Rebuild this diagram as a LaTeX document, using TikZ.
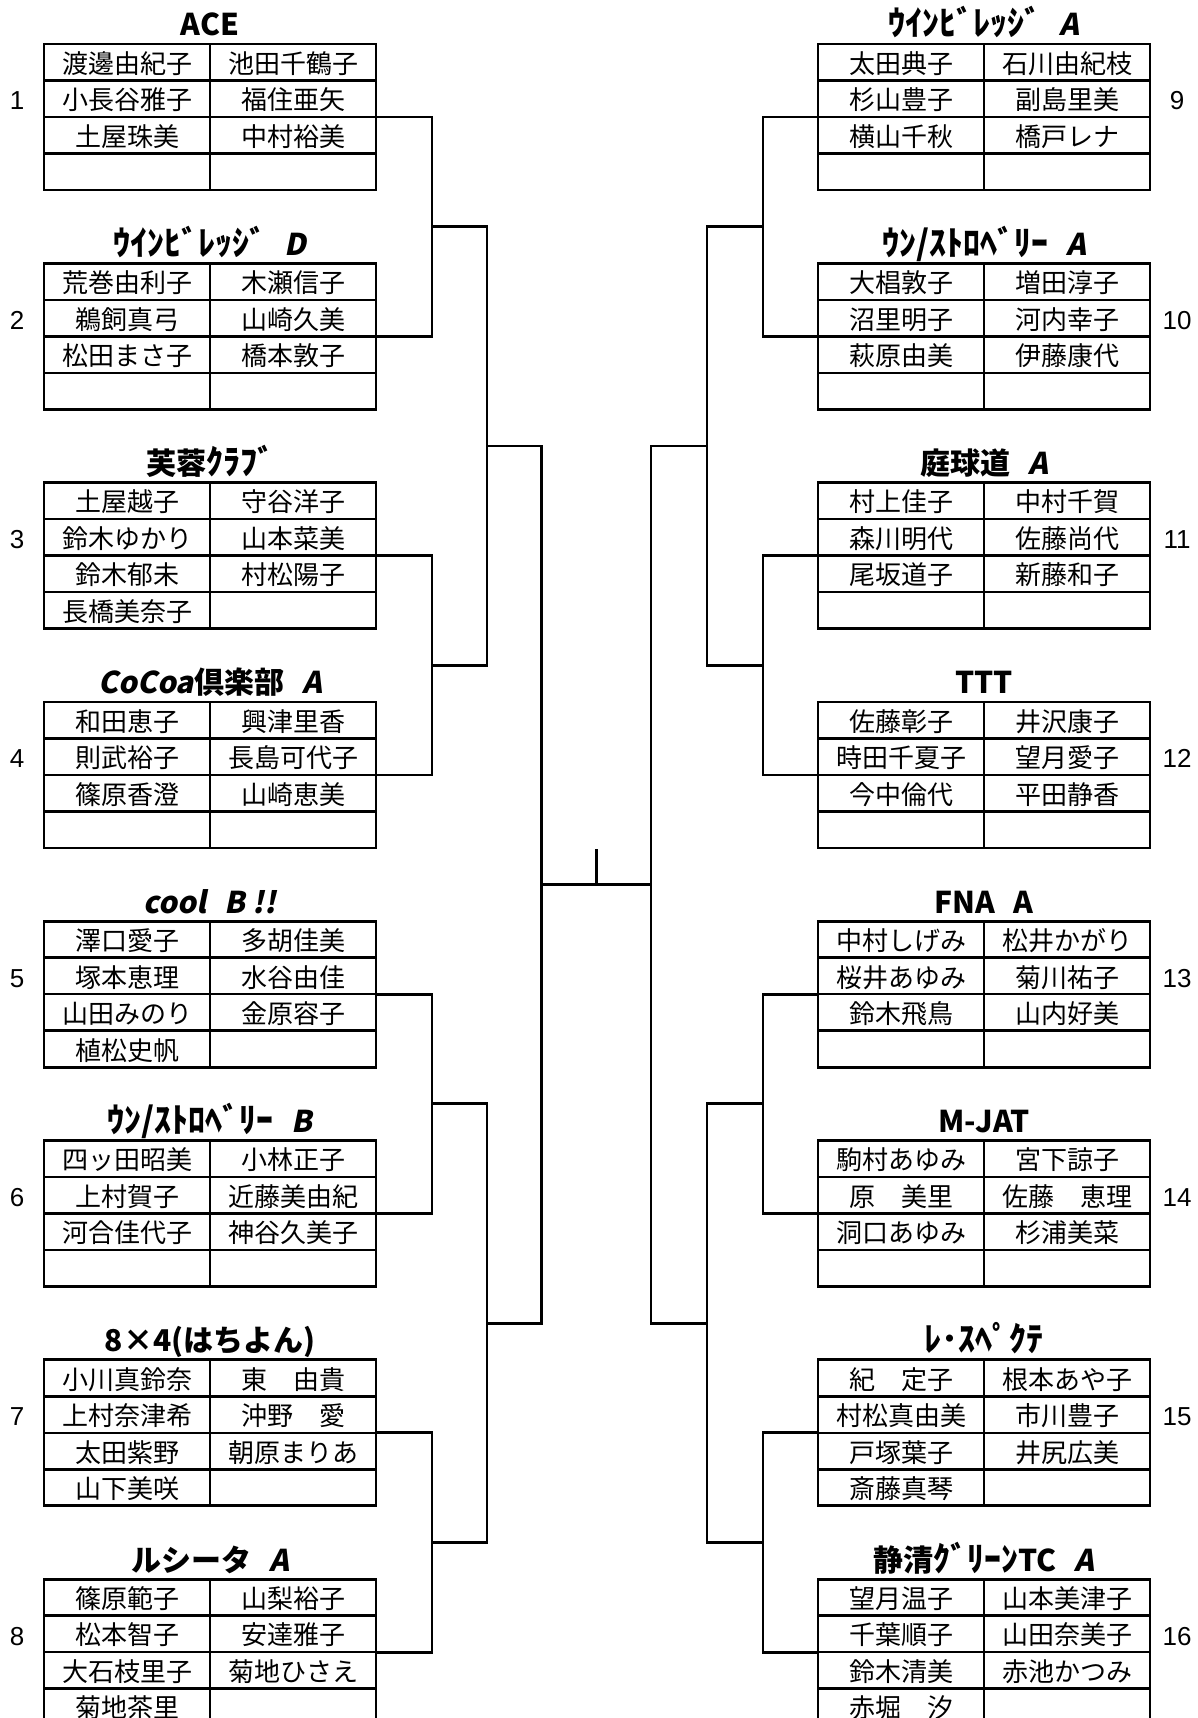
\documentclass[tikz,border=0pt]{standalone}
\usepackage{fontspec}
\usetikzlibrary{calc}
\setmainfont{Liberation Sans}
\newfontfamily\jp{Noto Sans CJK JP}
\newfontfamily\jpsl{Noto Sans CJK JP}[FakeSlant=0.2]
\newcommand\kn{\fontsize{34}{36}\selectfont}
\newcommand\gap{\hspace{18pt}}
\tikzset{
  tbl/.style={draw, line width=2.8pt, minimum width=332pt, minimum height=146pt, inner sep=0pt, outer sep=0pt},
  gridline/.style={line width=2.5pt},
  nm/.style={anchor=base, inner sep=0pt, font=\jp\fontsize{26}{30}\selectfont},
  ttl/.style={anchor=base, inner sep=0pt, font=\jp\bfseries\fontsize{30}{34}\selectfont},
  num/.style={anchor=base, inner sep=0pt, font=\fontsize{26}{30}\selectfont},
  br/.style={line width=2.8pt}
}
\newcommand\teambox[4]{%
  \node[tbl, anchor=north west] (#1) at (#2,#3) {};
  \foreach \d in {36.5,73,109.5}
    \draw[gridline] ($(#1.north west)+(0,\d)$) -- ($(#1.north east)+(0,\d)$);
  \draw[gridline] (#1.north) -- (#1.south);
  \node[ttl] (#1t) at ($(#1.north)+(0,-8)$) {#4};
  \coordinate (#1l) at ($(#1.north west)+(0,73)$);
  \coordinate (#1r) at ($(#1.north east)+(0,73)$);
}
\newcommand\teamrows[9]{%
  \node[nm] (#1a) at ($(#1.north west)+(83,29.3)$) {#2};
  \node[nm] (#1b) at ($(#1.north west)+(249,29.3)$) {#3};
  \node[nm] (#1c) at ($(#1.north west)+(83,65.8)$) {#4};
  \node[nm] (#1d) at ($(#1.north west)+(249,65.8)$) {#5};
  \node[nm] (#1e) at ($(#1.north west)+(83,102.3)$) {#6};
  \node[nm] (#1f) at ($(#1.north west)+(249,102.3)$) {#7};
  \node[nm] (#1g) at ($(#1.north west)+(83,138.8)$) {#8};
  \node[nm] (#1h) at ($(#1.north west)+(249,138.8)$) {#9};
}
\begin{document}
\begin{tikzpicture}[x=1pt,y=-1pt]
\useasboundingbox (0,0) rectangle (1197,1718);
\clip (0,0) rectangle (1197,1718);
\fill[white] (0,0) rectangle (1197,1718);

% ---------- left side ----------
\teambox{t1}{44}{44}{ACE}
\teamrows{t1}{渡邊由紀子}{池田千鶴子}{小長谷雅子}{福住亜矢}{土屋珠美}{中村裕美}{}{}
\teambox{t2}{44}{263.3}{{\kn ｳｲﾝﾋﾞﾚｯｼﾞ}\gap{\jpsl D}}
\teamrows{t2}{荒巻由利子}{木瀬信子}{鵜飼真弓}{山崎久美}{松田まさ子}{橋本敦子}{}{}
\teambox{t3}{44}{482.6}{芙蓉{\kn ｸﾗﾌﾞ}}
\teamrows{t3}{土屋越子}{守谷洋子}{鈴木ゆかり}{山本菜美}{鈴木郁未}{村松陽子}{長橋美奈子}{}
\teambox{t4}{44}{701.9}{{\jpsl CoCoa}倶楽部\gap{\jpsl A}}
\teamrows{t4}{和田恵子}{興津里香}{則武裕子}{長島可代子}{篠原香澄}{山崎恵美}{}{}
\teambox{t5}{44}{921.2}{{\jpsl cool\gap B !!}}
\teamrows{t5}{澤口愛子}{多胡佳美}{塚本恵理}{水谷由佳}{山田みのり}{金原容子}{植松史帆}{}
\teambox{t6}{44}{1140.5}{{\kn ｳﾝ/ｽﾄﾛﾍﾞﾘｰ}\gap{\jpsl B}}
\teamrows{t6}{四ッ田昭美}{小林正子}{上村賀子}{近藤美由紀}{河合佳代子}{神谷久美子}{}{}
\teambox{t7}{44}{1359.8}{8×4(はちよん)}
\teamrows{t7}{小川真鈴奈}{東　由貴}{上村奈津希}{沖野　愛}{太田紫野}{朝原まりあ}{山下美咲}{}
\teambox{t8}{44}{1579.1}{ルシータ\gap{\jpsl A}}
\teamrows{t8}{篠原範子}{山梨裕子}{松本智子}{安達雅子}{大石枝里子}{菊地ひさえ}{菊地茶里}{}

% ---------- right side ----------
\teambox{t9}{818}{44}{{\kn ｳｲﾝﾋﾞﾚｯｼﾞ}\gap{\jpsl A}}
\teamrows{t9}{太田典子}{石川由紀枝}{杉山豊子}{副島里美}{横山千秋}{橋戸レナ}{}{}
\teambox{t10}{818}{263.3}{{\kn ｳﾝ/ｽﾄﾛﾍﾞﾘｰ}\gap{\jpsl A}}
\teamrows{t10}{大椙敦子}{増田淳子}{沼里明子}{河内幸子}{萩原由美}{伊藤康代}{}{}
\teambox{t11}{818}{482.6}{庭球道\gap{\jpsl A}}
\teamrows{t11}{村上佳子}{中村千賀}{森川明代}{佐藤尚代}{尾坂道子}{新藤和子}{}{}
\teambox{t12}{818}{701.9}{TTT}
\teamrows{t12}{佐藤彰子}{井沢康子}{時田千夏子}{望月愛子}{今中倫代}{平田静香}{}{}
\teambox{t13}{818}{921.2}{FNA\gap A}
\teamrows{t13}{中村しげみ}{松井かがり}{桜井あゆみ}{菊川祐子}{鈴木飛鳥}{山内好美}{}{}
\teambox{t14}{818}{1140.5}{M-JAT}
\teamrows{t14}{駒村あゆみ}{宮下諒子}{原　美里}{佐藤　恵理}{洞口あゆみ}{杉浦美菜}{}{}
\teambox{t15}{818}{1359.8}{{\kn ﾚ･ｽﾍﾟｸﾃ}}
\teamrows{t15}{紀　定子}{根本あや子}{村松真由美}{市川豊子}{戸塚葉子}{井尻広美}{斎藤真琴}{}
\teambox{t16}{818}{1579.1}{静清{\kn ｸﾞﾘｰﾝ}TC\gap{\jpsl A}}
\teamrows{t16}{望月温子}{山本美津子}{千葉順子}{山田奈美子}{鈴木清美}{赤池かつみ}{赤堀　汐}{}

% ---------- seed numbers ----------
\node[num] (n1) at (17,110) {1};
\node[num] (n2) at (17,329.3) {2};
\node[num] (n3) at (17,548.6) {3};
\node[num] (n4) at (17,767.9) {4};
\node[num] (n5) at (17,987.2) {5};
\node[num] (n6) at (17,1206.5) {6};
\node[num] (n7) at (17,1425.8) {7};
\node[num] (n8) at (17,1645.1) {8};
\node[num] (n9) at (1177,110) {9};
\node[num] (n10) at (1177,329.3) {10};
\node[num] (n11) at (1177,548.6) {11};
\node[num] (n12) at (1177,767.9) {12};
\node[num] (n13) at (1177,987.2) {13};
\node[num] (n14) at (1177,1206.5) {14};
\node[num] (n15) at (1177,1425.8) {15};
\node[num] (n16) at (1177,1645.1) {16};

% ---------- left brackets ----------
\draw[br] (t1r) -- ++(56,0) |- (t2r);
\draw[br] (t3r) -- ++(56,0) |- (t4r);
\draw[br] (t5r) -- ++(56,0) |- (t6r);
\draw[br] (t7r) -- ++(56,0) |- (t8r);
\coordinate (m12) at ($(t1r)!0.5!(t2r)+(56,0)$);
\coordinate (m34) at ($(t3r)!0.5!(t4r)+(56,0)$);
\coordinate (m56) at ($(t5r)!0.5!(t6r)+(56,0)$);
\coordinate (m78) at ($(t7r)!0.5!(t8r)+(56,0)$);
\draw[br] (m12) -- ++(55,0) |- (m34);
\draw[br] (m56) -- ++(55,0) |- (m78);
\coordinate (m14) at ($(m12)!0.5!(m34)+(55,0)$);
\coordinate (m58) at ($(m56)!0.5!(m78)+(55,0)$);
\draw[br] (m14) -- ++(54.3,0) |- (m58);
\coordinate (mL) at ($(m14)!0.5!(m58)+(54.3,0)$);

% ---------- right brackets ----------
\draw[br] (t9l) -- ++(-55,0) |- (t10l);
\draw[br] (t11l) -- ++(-55,0) |- (t12l);
\draw[br] (t13l) -- ++(-55,0) |- (t14l);
\draw[br] (t15l) -- ++(-55,0) |- (t16l);
\coordinate (m910) at ($(t9l)!0.5!(t10l)+(-55,0)$);
\coordinate (m1112) at ($(t11l)!0.5!(t12l)+(-55,0)$);
\coordinate (m1314) at ($(t13l)!0.5!(t14l)+(-55,0)$);
\coordinate (m1516) at ($(t15l)!0.5!(t16l)+(-55,0)$);
\draw[br] (m910) -- ++(-56,0) |- (m1112);
\draw[br] (m1314) -- ++(-56,0) |- (m1516);
\coordinate (m912) at ($(m910)!0.5!(m1112)+(-56,0)$);
\coordinate (m1316) at ($(m1314)!0.5!(m1516)+(-56,0)$);
\draw[br] (m912) -- ++(-56,0) |- (m1316);
\coordinate (mR) at ($(m912)!0.5!(m1316)+(-56,0)$);

% ---------- final ----------
\draw[br] (mL) -- (mR);
\coordinate (ctr) at ($(mL)!0.5!(mR)$);
\coordinate (win) at ($(ctr)+(0,-35.7)$);
\draw[br] (ctr) -- (win);
\end{tikzpicture}
\end{document}
